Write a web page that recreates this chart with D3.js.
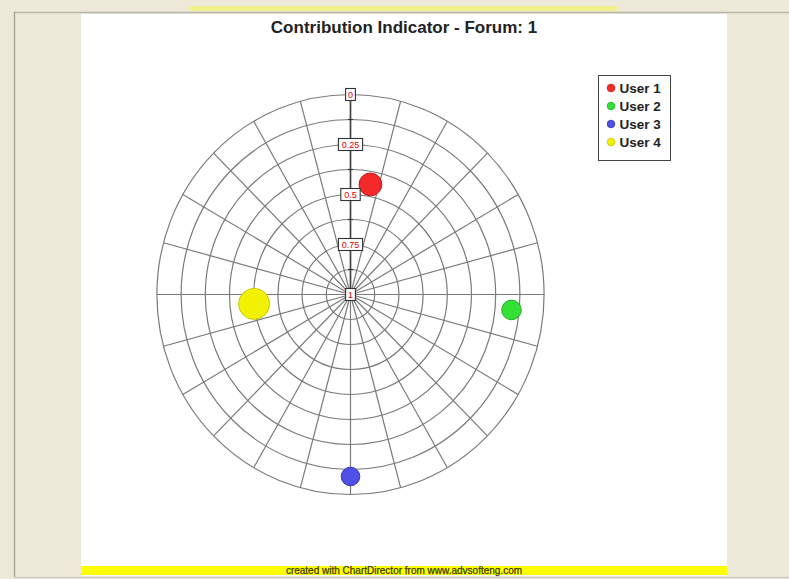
<!DOCTYPE html>
<html><head><meta charset="utf-8">
<script src="https://cdn.jsdelivr.net/npm/d3@7"></script>
<style>html,body{margin:0;padding:0;background:#ECE9D8;}svg{display:block;}</style>
</head><body>
<svg id="c" width="789" height="579"></svg>
<script>
const title = "Contribution Indicator - Forum: 1";
const users = ["User 1", "User 2", "User 3", "User 4"];
const angles = [10.6, 95.3, 180, 264.6];
const values = [0.44, 0.165, 0.09, 0.5];
const sizes = [0.54, 0.40, 0.36, 1.0];
const colors = ["#f42a2a", "#33e033", "#5050e6", "#f2f200"];
const strokes = ["#c41818", "#22b022", "#3535b5", "#c8c800"];
const radialTicks = [0, 0.25, 0.5, 0.75, 1];
const radialGrid = [0, 0.125, 0.25, 0.375, 0.5, 0.625, 0.75, 0.875];
const spokeAngles = d3.range(0, 360, 15);
const footer = "created with ChartDirector from www.advsofteng.com";

const svg = d3.select("#c");
const font = "Liberation Sans, Arial, sans-serif";
// window frame
svg.append("rect").attr("x",0).attr("y",0).attr("width",789).attr("height",579).attr("fill","#ECE9D8");
svg.append("rect").attr("x",190).attr("y",6).attr("width",428).attr("height",5).attr("fill","#f2f08a");
svg.append("line").attr("x1",14).attr("x2",789).attr("y1",12.5).attr("y2",12.5).attr("stroke","#b9b8ad").attr("stroke-width",1.5);
svg.append("line").attr("x1",14.5).attr("x2",14.5).attr("y1",12).attr("y2",577).attr("stroke","#a8a79c").attr("stroke-width",1.5);
svg.append("line").attr("x1",14).attr("x2",789).attr("y1",577.5).attr("y2",577.5).attr("stroke","#cfcec4").attr("stroke-width",1.5);
svg.append("rect").attr("x",81).attr("y",14).attr("width",646).attr("height",562).attr("fill","#ffffff");
svg.append("rect").attr("x",81).attr("y",566).attr("width",646).attr("height",9).attr("fill","#ffff00");
svg.append("text").attr("x",404).attr("y",574).attr("text-anchor","middle")
  .attr("font-family",font).attr("font-size",10).attr("fill","#3a3a00")
  .attr("stroke","#3a3a00").attr("stroke-width",0.25).text(footer);

svg.append("text").attr("x",404).attr("y",32.5).attr("text-anchor","middle")
  .attr("font-family",font).attr("font-weight","bold").attr("font-size",17)
  .attr("fill","#222").text(title);

const cx = 350.5, cy = 294.5, R = 200, kx = 0.968;
const r = d3.scaleLinear().domain([1, 0]).range([0, R]);
const a = d3.scaleLinear().domain([0, 360]).range([0, 2 * Math.PI]);
const px = (ang, v) => cx + r(v) * Math.sin(a(ang)) * kx;
const py = (ang, v) => cy - r(v) * Math.cos(a(ang));

const g = svg.append("g");
g.selectAll("ellipse.grid").data(radialGrid).join("ellipse")
  .attr("cx", cx).attr("cy", cy).attr("rx", d => r(d) * kx).attr("ry", d => r(d))
  .attr("fill","none").attr("stroke","#7a7a7a").attr("stroke-width",1.2);
g.selectAll("line.spoke").data(spokeAngles).join("line")
  .attr("x1", cx).attr("y1", cy)
  .attr("x2", d => px(d, 0)).attr("y2", d => py(d, 0))
  .attr("stroke","#7a7a7a").attr("stroke-width",1.2);
// radial axis
g.append("line").attr("x1",cx).attr("y1",cy).attr("x2",px(0,0)).attr("y2",py(0,0)).attr("stroke","#444").attr("stroke-width",1.6);
g.selectAll("line.tick").data(radialGrid).join("line")
  .attr("x1", cx - 2.5).attr("x2", cx + 2.5).attr("y1", d => py(0, d)).attr("y2", d => py(0, d))
  .attr("stroke","#333").attr("stroke-width",1.2);

// bubbles
const z = d3.scaleSqrt().domain([0, d3.max(sizes)]).range([0, 15.5]);
g.selectAll("circle.b").data(users).join("circle")
  .attr("cx", (d, i) => px(angles[i], values[i])).attr("cy", (d, i) => py(angles[i], values[i]))
  .attr("r", (d, i) => z(sizes[i]))
  .attr("fill", (d, i) => colors[i]).attr("stroke", (d, i) => strokes[i]).attr("stroke-width",1);

// tick labels
const lab = g.selectAll("g.lab").data(radialTicks).join("g")
  .attr("transform", d => `translate(${cx},${py(0, d)})`);
lab.each(function(d) {
  const t = String(d);
  const w = t.length * 4.8 + 5;
  d3.select(this).append("rect").attr("x", -w / 2).attr("y", -6).attr("width", w).attr("height", 12)
    .attr("fill","#fff").attr("stroke","#333").attr("stroke-width",1.1);
  d3.select(this).append("text").attr("x",0).attr("y",3.2).attr("text-anchor","middle")
    .attr("font-family",font).attr("font-size",9).attr("fill","#e00000").text(t);
});

// legend
const lg = svg.append("g");
lg.append("rect").attr("x",598.5).attr("y",75.5).attr("width",72).attr("height",85)
  .attr("fill","#fff").attr("stroke","#444").attr("stroke-width",1);
const li = lg.selectAll("g.li").data(users).join("g").attr("transform", (d, i) => `translate(611,${88 + i * 18})`);
li.append("circle").attr("r",3.8).attr("fill",(d,i)=>colors[i]).attr("stroke",(d,i)=>strokes[i]).attr("stroke-width",0.8);
li.append("text").attr("x",8.5).attr("y",4.8).attr("font-family",font)
  .attr("font-weight","bold").attr("font-size",13.5).attr("fill","#222").text(d => d);
</script>
</body></html>
